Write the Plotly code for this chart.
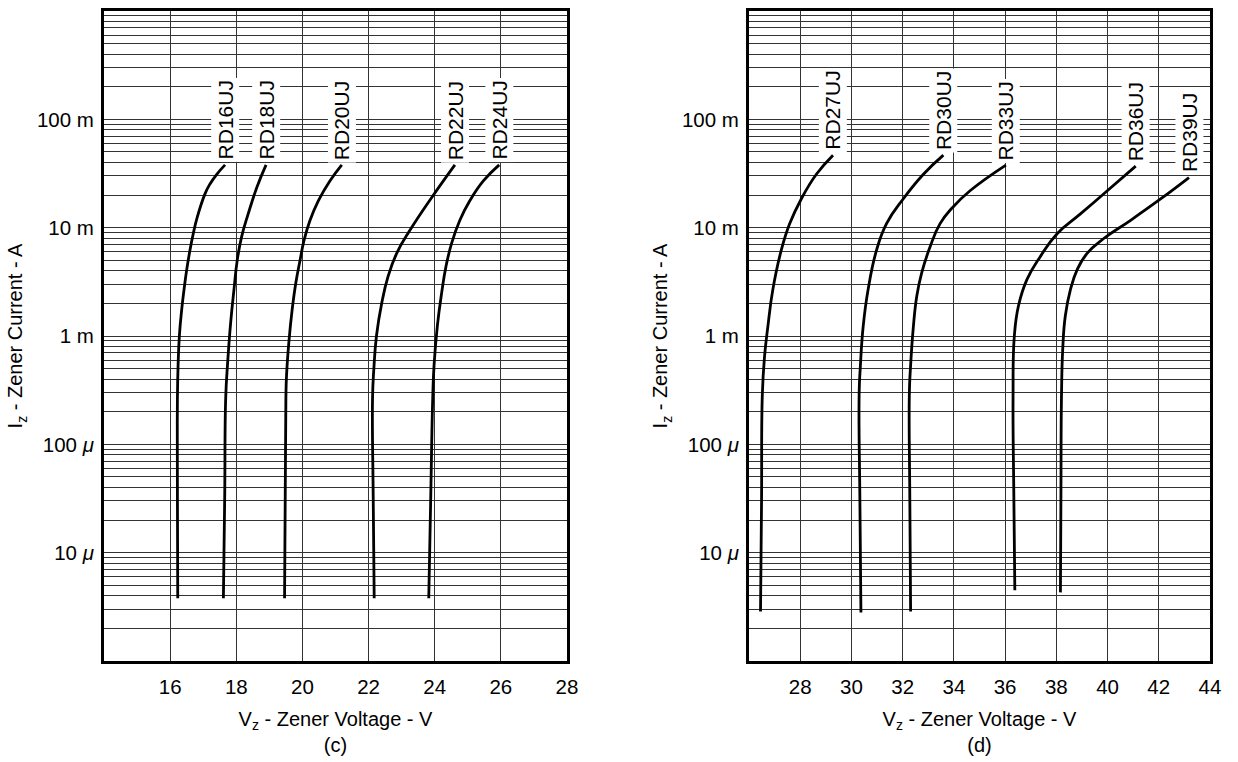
import numpy as np
import plotly.graph_objects as go

# ---------------- data ----------------
# Panel (c)
rd16_v = [16.23, 16.22, 16.22, 16.24, 16.28, 16.35, 16.42, 16.50, 16.60, 16.70, 16.82, 17.05, 17.20, 17.41, 17.66]
rd16_i = [3.8e-6, 3.3e-5, 2.67e-4, 5.36e-4, 1.01e-3, 1.76e-3, 2.68e-3, 4.08e-3, 6.21e-3, 8.83e-3,
          1.25e-2, 2.04e-2, 2.52e-2, 3.11e-2, 3.8e-2]
rd18_v = [17.61, 17.65, 17.68, 17.74, 17.83, 17.93, 18.03, 18.16, 18.36, 18.62, 18.90]
rd18_i = [3.8e-6, 3.3e-5, 2.67e-4, 5.76e-4, 1.33e-3, 2.68e-3, 5.04e-3, 8.22e-3, 1.34e-2, 2.35e-2, 3.8e-2]
rd20_v = [19.46, 19.48, 19.50, 19.52, 19.59, 19.69, 19.80, 19.93, 20.05, 20.23, 20.48, 20.83, 21.19]
rd20_i = [3.8e-6, 3.3e-5, 2.67e-4, 4.35e-4, 8.77e-4, 1.76e-3, 3.09e-3, 5.04e-3, 7.67e-3, 1.17e-2, 1.77e-2, 2.70e-2, 3.8e-2]
rd22_v = [22.17, 22.14, 22.12, 22.16, 22.24, 22.40, 22.59, 22.85, 23.25, 23.91, 24.61]
rd22_i = [3.8e-6, 3.3e-5, 2.67e-4, 5.0e-4, 1.01e-3, 2.03e-3, 3.55e-3, 5.80e-3, 9.46e-3, 1.90e-2, 3.8e-2]
rd24_v = [23.82, 23.88, 23.94, 23.98, 24.08, 24.21, 24.34, 24.51, 24.76, 25.06, 25.47, 25.95]
rd24_i = [3.8e-6, 3.3e-5, 2.67e-4, 5.36e-4, 1.24e-3, 2.50e-3, 4.38e-3, 7.15e-3, 1.17e-2, 1.77e-2, 2.70e-2, 3.8e-2]

# Panel (d)
rd27_v = [26.45, 26.49, 26.52, 26.61, 26.74, 26.93, 27.26, 27.59, 28.04, 28.63, 29.28]
rd27_i = [2.86e-6, 3.0e-5, 2.86e-4, 6.6e-4, 1.24e-3, 2.68e-3, 6.2e-3, 1.09e-2, 1.84e-2, 3.11e-2, 4.67e-2]
rd30_v = [30.37, 30.33, 30.30, 30.35, 30.46, 30.65, 30.98, 31.37, 32.02, 32.81, 33.59]
rd30_i = [2.8e-6, 3.0e-5, 2.86e-4, 5.36e-4, 1.24e-3, 2.68e-3, 6.2e-3, 1.09e-2, 1.84e-2, 3.11e-2, 4.67e-2]
rd33_v = [32.31, 32.28, 32.26, 32.31, 32.41, 32.55, 32.74, 33.07, 33.46, 33.93, 34.63, 36.03]
rd33_i = [2.86e-6, 3.0e-5, 2.86e-4, 5.36e-4, 1.16e-3, 2.33e-3, 3.81e-3, 6.65e-3, 1.09e-2, 1.52e-2, 2.19e-2, 3.78e-2]
rd36_v = [36.38, 36.34, 36.31, 36.36, 36.52, 36.85, 37.37, 38.03, 38.94, 39.99, 41.10]
rd36_i = [4.5e-6, 3.5e-5, 2.67e-4, 1.0e-3, 1.89e-3, 3.31e-3, 5.4e-3, 8.8e-3, 1.34e-2, 2.19e-2, 3.7e-2]
rd39_v = [38.16, 38.18, 38.20, 38.25, 38.35, 38.55, 38.81, 39.20, 39.85, 40.90, 42.07, 43.18]
rd39_i = [4.3e-6, 3.5e-5, 2.67e-4, 7.6e-4, 1.53e-3, 2.68e-3, 4.08e-3, 5.8e-3, 7.94e-3, 1.17e-2, 1.84e-2, 2.9e-2]

names_c = ["RD16UJ", "RD18UJ", "RD20UJ", "RD22UJ", "RD24UJ"]
names_d = ["RD27UJ", "RD30UJ", "RD33UJ", "RD36UJ", "RD39UJ"]

x_ticks_c = [16, 18, 20, 22, 24, 26, 28]
x_ticks_d = [28, 30, 32, 34, 36, 38, 40, 42, 44]
y_decades = [1e-5, 1e-4, 1e-3, 1e-2, 1e-1]
y_decade_labels = ["10 <i>μ</i>", "100 <i>μ</i>", "1 m", "10 m", "100 m"]

# ---------------- figure ----------------
FONT = "Liberation Sans, Arial, sans-serif"
fig = go.Figure()

series_c = [(rd16_v, rd16_i), (rd18_v, rd18_i), (rd20_v, rd20_i), (rd22_v, rd22_i), (rd24_v, rd24_i)]
series_d = [(rd27_v, rd27_i), (rd30_v, rd30_i), (rd33_v, rd33_i), (rd36_v, rd36_i), (rd39_v, rd39_i)]

annotations = []
for group, names, xa, ya in [(series_c, names_c, "x", "y"), (series_d, names_d, "x2", "y2")]:
    for (v, i), name in zip(group, names):
        fig.add_trace(go.Scatter(x=v, y=i, mode="lines", name=name, xaxis=xa, yaxis=ya,
                                 line=dict(color="black", width=2.8, shape="spline", smoothing=1.3)))
        annotations.append(dict(x=v[-1], y=np.log10(i[-1]), xref=xa, yref=ya, text=name,
                                textangle=-90, showarrow=False, xanchor="center", yanchor="bottom",
                                yshift=2, bgcolor="white", borderpad=2,
                                font=dict(family=FONT, size=21, color="black")))

# y grid values: every digit in each decade, labels only at the decades
y_grid = []
y_grid_text = []
for e in range(-6, 0):
    for d in range(1, 10):
        val = d * 10.0 ** e
        y_grid.append(val)
        lbl = ""
        for dv, dl in zip(y_decades, y_decade_labels):
            if d == 1 and abs(np.log10(dv) - e) < 1e-9:
                lbl = dl
        y_grid_text.append(lbl)
y_grid.append(1.0)
y_grid_text.append("")

GRID = "#333333"
common_x = dict(showgrid=True, gridcolor=GRID, gridwidth=1, showline=True,
                linecolor="black", linewidth=3, mirror=True, zeroline=False,
                ticks="outside", ticklen=5, tickcolor="rgba(0,0,0,0)",
                tickfont=dict(family=FONT, size=20.5, color="black"))
common_y = dict(type="log", range=[-6, 0], tickvals=y_grid, ticktext=y_grid_text,
                showgrid=True, gridcolor=GRID, gridwidth=1, showline=True,
                linecolor="black", linewidth=3, mirror=True, zeroline=False,
                ticks="outside", ticklen=3, tickcolor="rgba(0,0,0,0)",
                tickfont=dict(family=FONT, size=20.5, color="black"))

dom_c = [0.0, (567 - 104) / (1210 - 104)]
dom_d = [(749 - 104) / (1210 - 104), 1.0]

title_font = dict(family=FONT, size=20, color="black")
fig.update_layout(
    width=1238, height=762,
    margin=dict(l=104, r=28, t=8, b=96),
    paper_bgcolor="white", plot_bgcolor="white",
    showlegend=False,
    font=dict(family=FONT, size=20, color="black"),
    xaxis=dict(common_x, domain=dom_c, range=[14, 28], tickvals=x_ticks_c, anchor="y",
               title=dict(text="V<sub>z</sub> - Zener Voltage - V<br>(c)", standoff=16, font=title_font)),
    yaxis=dict(common_y, domain=[0, 1], anchor="x",
               title=dict(text="I<sub>z</sub> - Zener Current - A", standoff=9, font=title_font)),
    xaxis2=dict(common_x, domain=dom_d, range=[26, 44], tickvals=x_ticks_d, anchor="y2",
                title=dict(text="V<sub>z</sub> - Zener Voltage - V<br>(d)", standoff=16, font=title_font)),
    yaxis2=dict(common_y, domain=[0, 1], anchor="x2",
                title=dict(text="I<sub>z</sub> - Zener Current - A", standoff=9, font=title_font)),
    annotations=annotations,
)

fig.write_html("out.html", config={"displayModeBar": False},
               post_script="document.body.style.margin='0px';document.body.style.overflow='hidden';")
